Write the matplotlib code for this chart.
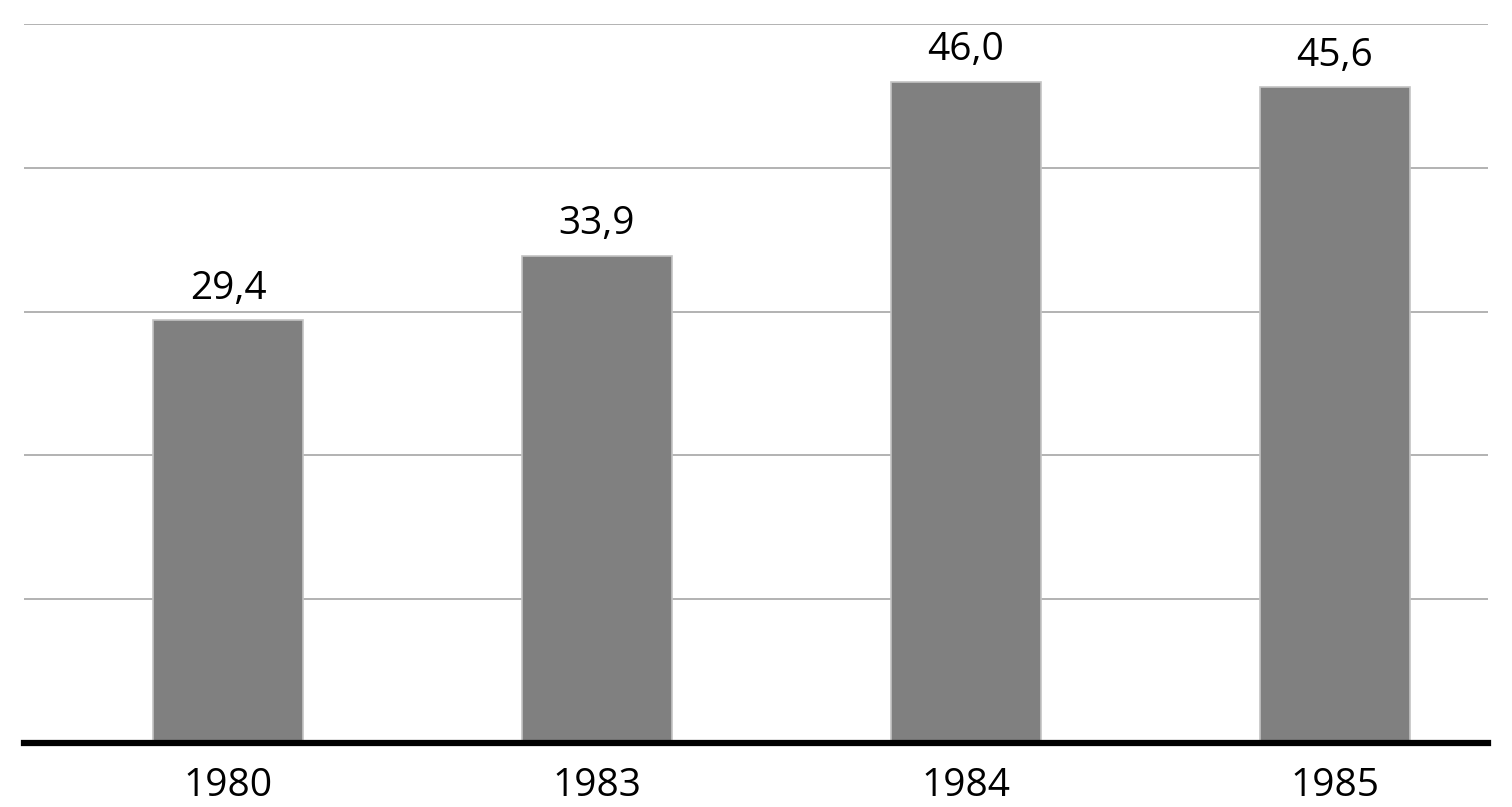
import matplotlib
matplotlib.use("Agg")
import matplotlib.pyplot as plt

years = ["1980", "1983", "1984", "1985"]
values = [29.4, 33.9, 46.0, 45.6]
value_labels = ["29,4", "33,9", "46,0", "45,6"]

plt.rcParams["font.family"] = ["Open Sans", "DejaVu Sans"]

fig = plt.figure(figsize=(15.12, 8.07), dpi=100)
ax = fig.add_axes([24 / 1512, 1 - 743 / 807, 1464 / 1512, 719 / 807])

x = list(range(len(years)))
ax.bar(x, values, width=0.407, color="#808080", edgecolor="#c4c4c4",
       linewidth=1.2, zorder=3)

for xi, v, lab in zip(x, values, value_labels):
    ax.annotate(lab, (xi, v), xytext=(0, 9), textcoords="offset points",
                ha="center", va="bottom", fontsize=28, color="black")

ax.set_xlim(-0.553, 3.415)
ax.set_ylim(0, 50)
ax.set_yticks([10, 20, 30, 40, 50])
ax.yaxis.grid(True, color="#a6a6a6", linewidth=1.2, zorder=0)
ax.tick_params(axis="y", length=0, labelleft=False)
ax.set_xticks(x)
ax.set_xticklabels(years, fontsize=28)
ax.tick_params(axis="x", length=0, pad=17)

for side in ["top", "right", "left"]:
    ax.spines[side].set_visible(False)
ax.spines["bottom"].set_linewidth(4.5)
ax.spines["bottom"].set_color("black")
ax.spines["bottom"].set_zorder(4)

fig.savefig("out.png", dpi=100)
